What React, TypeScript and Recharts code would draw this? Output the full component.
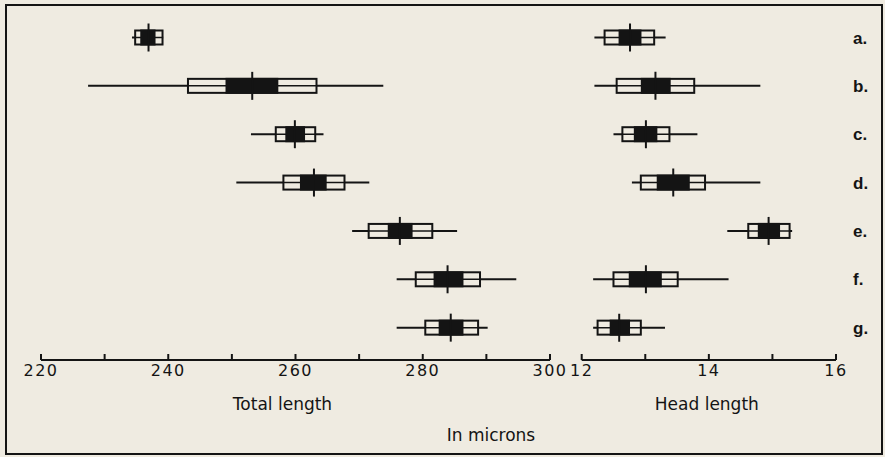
import React from 'react';
import { ComposedChart, Bar, XAxis, YAxis } from 'recharts';

// sample labels, one row each
const rows = ['a.', 'b.', 'c.', 'd.', 'e.', 'f.', 'g.'];

// Total length (microns): range, open box, black box, mean
const totalMin = [234.3, 227.4, 253.0, 250.7, 268.9, 275.9, 275.9];
const totalMax = [239.2, 273.8, 264.4, 271.6, 285.4, 294.7, 290.2];
const totalSdLo = [234.8, 243.1, 256.9, 258.1, 271.5, 278.9, 280.4];
const totalSdHi = [239.1, 263.3, 263.1, 267.7, 281.5, 289.0, 288.7];
const totalSeLo = [235.6, 249.0, 258.4, 260.7, 274.5, 281.7, 282.5];
const totalSeHi = [238.0, 257.3, 261.5, 264.9, 278.4, 286.4, 286.4];
const totalMean = [236.9, 253.2, 259.9, 262.9, 276.4, 283.9, 284.4];

// Head length (microns)
const headMin = [12.2, 12.2, 12.5, 12.79, 14.29, 12.18, 12.18];
const headMax = [13.32, 14.81, 13.82, 14.81, 15.31, 14.31, 13.31];
const headSdLo = [12.36, 12.55, 12.64, 12.93, 14.62, 12.5, 12.25];
const headSdHi = [13.14, 13.77, 13.38, 13.94, 15.27, 13.51, 12.93];
const headSeLo = [12.58, 12.93, 12.82, 13.18, 14.77, 12.74, 12.44];
const headSeHi = [12.94, 13.4, 13.19, 13.7, 15.12, 13.26, 12.76];
const headMean = [12.76, 13.16, 13.01, 13.44, 14.94, 13.01, 12.59];

const totalTicks = [220, 230, 240, 250, 260, 270, 280, 290, 300];
const totalLabels = [220, 240, 260, 280, 300];
const headTicks = [12, 13, 14, 15, 16];
const headLabels = [12, 14, 16];

const INK = '#141414';
const PAPER = '#efebe1';
const FONT = '"DejaVu Sans", sans-serif';

const buildRows = (
  min: number[], max: number[], sdLo: number[], sdHi: number[],
  seLo: number[], seHi: number[], mean: number[]
) =>
  rows.map((name, i) => ({
    name,
    range: [min[i], max[i]],
    sd: [sdLo[i], sdHi[i]],
    se: [seLo[i], seHi[i]],
    mean: [mean[i], mean[i]],
  }));

const totalData = buildRows(totalMin, totalMax, totalSdLo, totalSdHi, totalSeLo, totalSeHi, totalMean);
const headData = buildRows(headMin, headMax, headSdLo, headSdHi, headSeLo, headSeHi, headMean);

const RangeLine = (p: any) => {
  const cy = p.y + p.height / 2;
  return <line x1={p.x} x2={p.x + p.width} y1={cy} y2={cy} stroke={INK} strokeWidth={2} />;
};

const SdBox = (p: any) => {
  const cy = p.y + p.height / 2;
  return (
    <g>
      <rect x={p.x} y={cy - 7} width={p.width} height={14} fill={PAPER} stroke={INK} strokeWidth={2} />
      <line x1={p.x} x2={p.x + p.width} y1={cy} y2={cy} stroke={INK} strokeWidth={1.5} />
    </g>
  );
};

const SeBox = (p: any) => {
  const cy = p.y + p.height / 2;
  return <rect x={p.x} y={cy - 8} width={p.width} height={16} fill={INK} />;
};

const MeanLine = (p: any) => {
  const cy = p.y + p.height / 2;
  return <line x1={p.x} x2={p.x} y1={cy - 14} y2={cy + 14} stroke={INK} strokeWidth={2} />;
};

const makeTick = (labels: number[]) => (props: any) => {
  const { x, y, payload } = props;
  return (
    <g>
      <line x1={x} x2={x} y1={y - 6} y2={y} stroke={INK} strokeWidth={2} />
      {labels.includes(payload.value) && (
        <text x={x} y={y + 16} textAnchor="middle" fontSize={16} letterSpacing={1.5} fill={INK} fontFamily={FONT}>
          {payload.value}
        </text>
      )}
    </g>
  );
};

const pad = { top: 0, bottom: 8 };

const Panel = ({ data, domain, ticks, labels, title, titleDx, width, margin, showRows }: any) => (
  <ComposedChart width={width} height={457} data={data} layout="vertical" margin={margin}>
    <XAxis
      type="number"
      domain={domain}
      ticks={ticks}
      interval={0}
      allowDataOverflow
      height={30}
      tickSize={0}
      tickMargin={0}
      tickLine={false}
      axisLine={{ stroke: INK, strokeWidth: 2 }}
      tick={makeTick(labels)}
      label={{ value: title, position: 'bottom', offset: 8, dx: titleDx, fontSize: 17, fill: INK, fontFamily: FONT }}
    />
    <YAxis yAxisId="range" type="category" dataKey="name" hide padding={pad} />
    <YAxis yAxisId="sd" type="category" dataKey="name" hide padding={pad} />
    <YAxis yAxisId="se" type="category" dataKey="name" hide padding={pad} />
    <YAxis
      yAxisId="mean"
      type="category"
      dataKey="name"
      orientation="right"
      hide={!showRows}
      width={49}
      padding={pad}
      axisLine={false}
      tickLine={false}
      tickSize={0}
      tickMargin={17}
      tick={{ fill: INK, fontSize: 17, fontWeight: 700, fontFamily: '"Liberation Sans", sans-serif', textAnchor: 'start' }}
    />
    <Bar yAxisId="range" dataKey="range" barSize={30} shape={RangeLine} isAnimationActive={false} />
    <Bar yAxisId="sd" dataKey="sd" barSize={30} shape={SdBox} isAnimationActive={false} />
    <Bar yAxisId="se" dataKey="se" barSize={30} shape={SeBox} isAnimationActive={false} />
    <Bar yAxisId="mean" dataKey="mean" barSize={30} shape={MeanLine} isAnimationActive={false} />
  </ComposedChart>
);

export default function App() {
  return (
    <div style={{ position: 'relative', width: 885, height: 457, background: PAPER, overflow: 'hidden' }}>
      <style>{'body{margin:0;}'}</style>
      <div style={{ position: 'absolute', left: 0, top: 0 }}>
        <Panel
          data={totalData}
          domain={[220, 300]}
          ticks={totalTicks}
          labels={totalLabels}
          title="Total length"
          titleDx={-13}
          width={570}
          margin={{ top: 13.5, right: 20, left: 41, bottom: 67 }}
          showRows={false}
        />
      </div>
      <div style={{ position: 'absolute', left: 560, top: 0 }}>
        <Panel
          data={headData}
          domain={[12, 16]}
          ticks={headTicks}
          labels={headLabels}
          title="Head length"
          titleDx={-2}
          width={325}
          margin={{ top: 13.5, right: 0, left: 21.7, bottom: 67 }}
          showRows
        />
      </div>
      <svg width={885} height={457} style={{ position: 'absolute', left: 0, top: 0, pointerEvents: 'none' }}>
        <rect x={6} y={5} width={876} height={449} fill="none" stroke={INK} strokeWidth={2} />
        <text x={491} y={441} textAnchor="middle" fontSize={17} fill={INK} fontFamily={FONT}>
          In microns
        </text>
      </svg>
    </div>
  );
}
